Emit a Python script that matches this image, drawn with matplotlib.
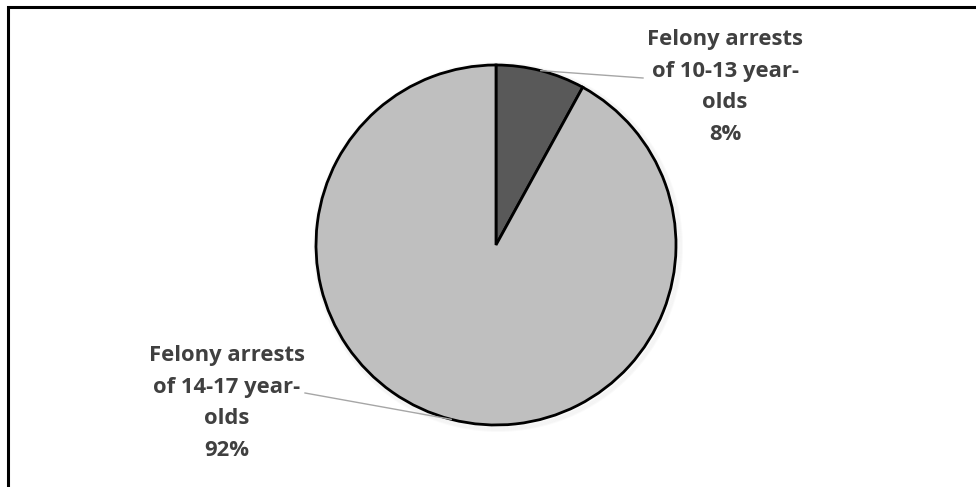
import matplotlib.pyplot as plt
import matplotlib.patches as patches
import numpy as np

# данные
labels = ["Felony arrests\nof 10-13 year-\nolds", "Felony arrests\nof 14-17 year-\nolds"]
shares = [8, 92]
colors = ["#595959", "#BFBFBF"]

W, H = 976, 487
fig = plt.figure(figsize=(W / 100, H / 100), dpi=100)
ax = fig.add_axes([0, 0, 1, 1])

cx, cy, r = 496, H - 245, 180

# рамка (уходит за правый и нижний край)
ax.add_patch(patches.Rectangle((8, -20), W + 20, H - 7 + 20, fill=False,
                               edgecolor='black', lw=2.2, zorder=5))

# лёгкая тень
for k in range(5):
    ax.add_patch(patches.Circle((cx + 2, cy - 2), r + k, facecolor='none',
                                edgecolor='#000000', alpha=0.02, lw=1.5, zorder=1))

wedges, _ = ax.pie(shares, colors=colors, startangle=90, counterclock=False,
                   center=(cx, cy), radius=r, frame=True,
                   wedgeprops=dict(edgecolor='black', linewidth=2.0))
for w in wedges:
    w.set_zorder(2)
ax.set_xlim(0, W)
ax.set_ylim(0, H)
ax.set_aspect('equal')
ax.axis('off')

# подписи: позиция текста (центр) и конец выноски
text_pos = [(725, H - 87), (227, H - 403)]
line_start = [(643, H - 78), (305, H - 393)]

for w, lab, val, tp, ls in zip(wedges, labels, shares, text_pos, line_start):
    mid = np.deg2rad((w.theta1 + w.theta2) / 2)
    ex, ey = cx + r * np.cos(mid), cy + r * np.sin(mid)
    ax.plot([ls[0], ex], [ls[1], ey], color='#A6A6A6', lw=1.0, zorder=3)
    ax.text(tp[0], tp[1], f"{lab}\n{val}%", ha='center', va='center',
            fontsize=15.8, fontweight='bold', color='#404040',
            family=['Open Sans', 'DejaVu Sans'], linespacing=1.68, zorder=4)

fig.savefig('out.png', dpi=100)
